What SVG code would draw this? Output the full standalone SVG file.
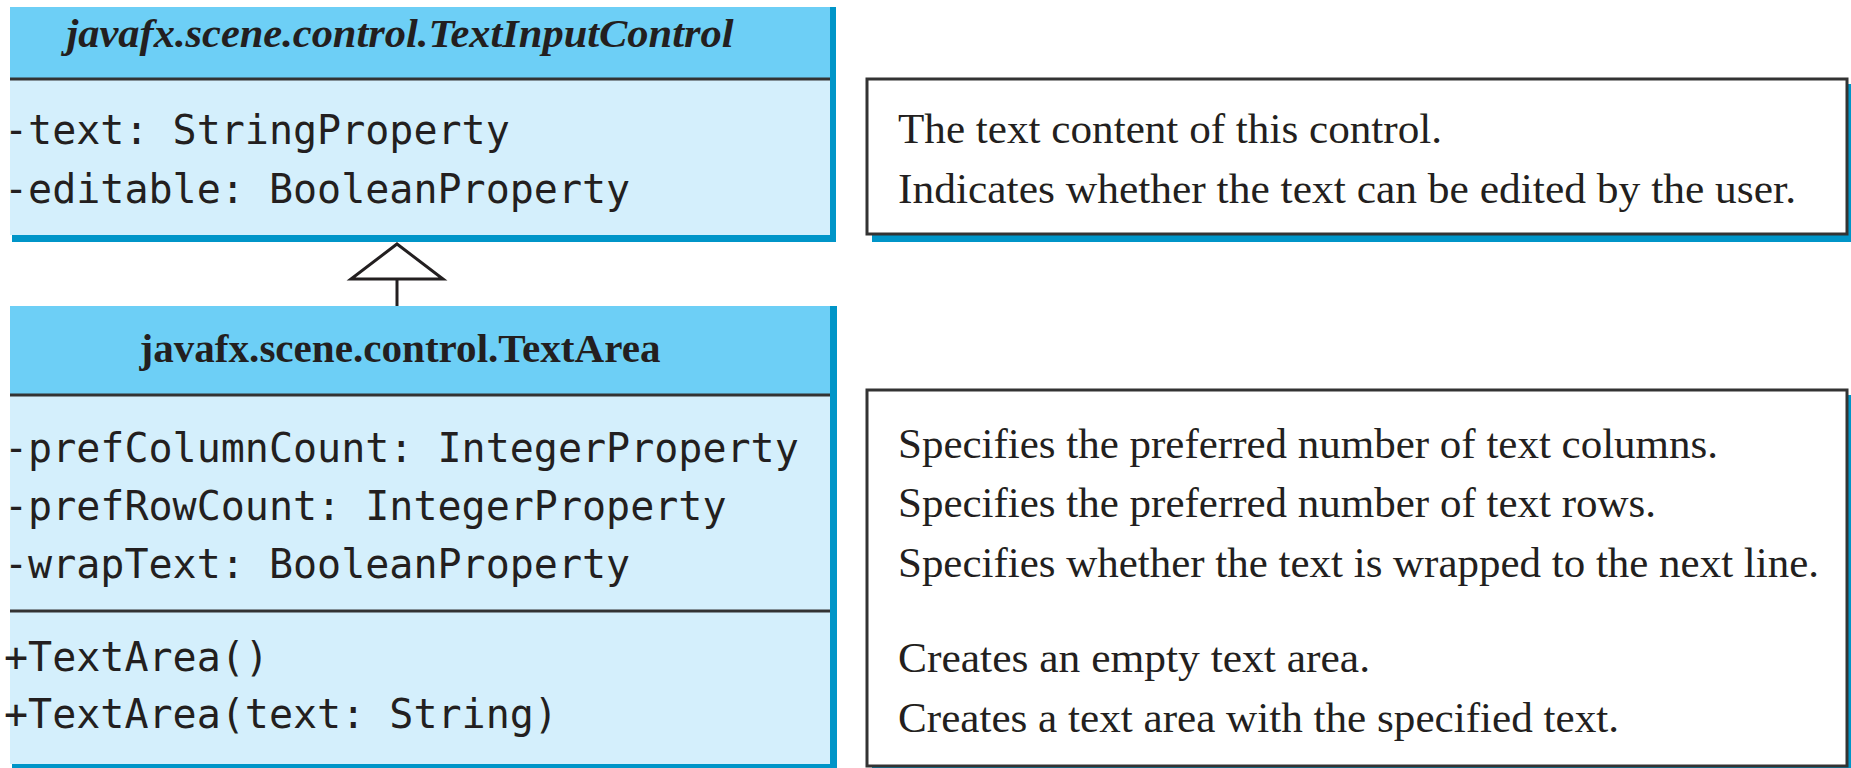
<svg xmlns="http://www.w3.org/2000/svg" width="1851" height="768" viewBox="0 0 1851 768">
<style>
.hdr{fill:#6dcff6}
.body{fill:#d4effc}
.edge{fill:#0095c8}
.div{stroke:#333;stroke-width:3}
.mono{font-family:"DejaVu Sans Mono","Liberation Mono",monospace;font-size:40px;fill:#231f20}
.title{font-family:"Liberation Serif","Times New Roman",serif;font-size:40px;font-weight:bold;fill:#231f20;text-anchor:middle}
.desc{font-family:"Liberation Serif","Times New Roman",serif;font-size:42px;fill:#231f20}
.dbox{fill:#fff;stroke:#333;stroke-width:3}
.shadow{fill:#0095c8}
</style>
<rect width="1851" height="768" fill="#fff"/>
<g id="textInputControl">
<rect class="edge" x="12" y="7" width="824" height="235"/>
<rect class="body" x="10" y="7" width="820" height="228"/>
<rect class="hdr" x="10" y="7" width="820" height="72"/>
<line class="div" x1="10" y1="79" x2="830" y2="79"/>
<text class="title" x="400" y="47" font-style="italic" textLength="667" lengthAdjust="spacingAndGlyphs">javafx.scene.control.TextInputControl</text>
<text class="mono" x="4" y="144">-text: StringProperty</text>
<text class="mono" x="4" y="203">-editable: BooleanProperty</text>
</g>
<g id="textArea">
<rect class="edge" x="12" y="306" width="825" height="462"/>
<rect class="body" x="10" y="306" width="820" height="458"/>
<rect class="hdr" x="10" y="306" width="820" height="89"/>
<line class="div" x1="10" y1="395" x2="830" y2="395"/>
<line class="div" x1="10" y1="611" x2="830" y2="611"/>
<text class="title" x="400" y="362" textLength="521" lengthAdjust="spacingAndGlyphs">javafx.scene.control.TextArea</text>
<text class="mono" x="4" y="462">-prefColumnCount: IntegerProperty</text>
<text class="mono" x="4" y="520">-prefRowCount: IntegerProperty</text>
<text class="mono" x="4" y="578">-wrapText: BooleanProperty</text>
<text class="mono" x="4" y="671">+TextArea()</text>
<text class="mono" x="4" y="728">+TextArea(text: String)</text>
</g>
<g id="desc1">
<rect class="shadow" x="872" y="84" width="979" height="158"/>
<rect class="dbox" x="867" y="79" width="980" height="155"/>
<text class="desc" x="898" y="143" textLength="544" lengthAdjust="spacingAndGlyphs">The text content of this control.</text>
<text class="desc" x="898" y="203" textLength="898" lengthAdjust="spacingAndGlyphs">Indicates whether the text can be edited by the user.</text>
</g>
<g id="desc2">
<rect class="shadow" x="872" y="395" width="979" height="380"/>
<rect class="dbox" x="867" y="390" width="980" height="376"/>
<text class="desc" x="898" y="458" textLength="820" lengthAdjust="spacingAndGlyphs">Specifies the preferred number of text columns.</text>
<text class="desc" x="898" y="517" textLength="758" lengthAdjust="spacingAndGlyphs">Specifies the preferred number of text rows.</text>
<text class="desc" x="898" y="577" textLength="921" lengthAdjust="spacingAndGlyphs">Specifies whether the text is wrapped to the next line.</text>
<text class="desc" x="898" y="672" textLength="472" lengthAdjust="spacingAndGlyphs">Creates an empty text area.</text>
<text class="desc" x="898" y="732" textLength="721" lengthAdjust="spacingAndGlyphs">Creates a text area with the specified text.</text>
</g>
<g id="connectors">
<line x1="397" y1="306" x2="397" y2="279" stroke="#231f20" stroke-width="3"/>
<polygon points="397,244 443,279 351,279" fill="#fff" stroke="#231f20" stroke-width="3" stroke-linejoin="miter"/>
</g>
</svg>
